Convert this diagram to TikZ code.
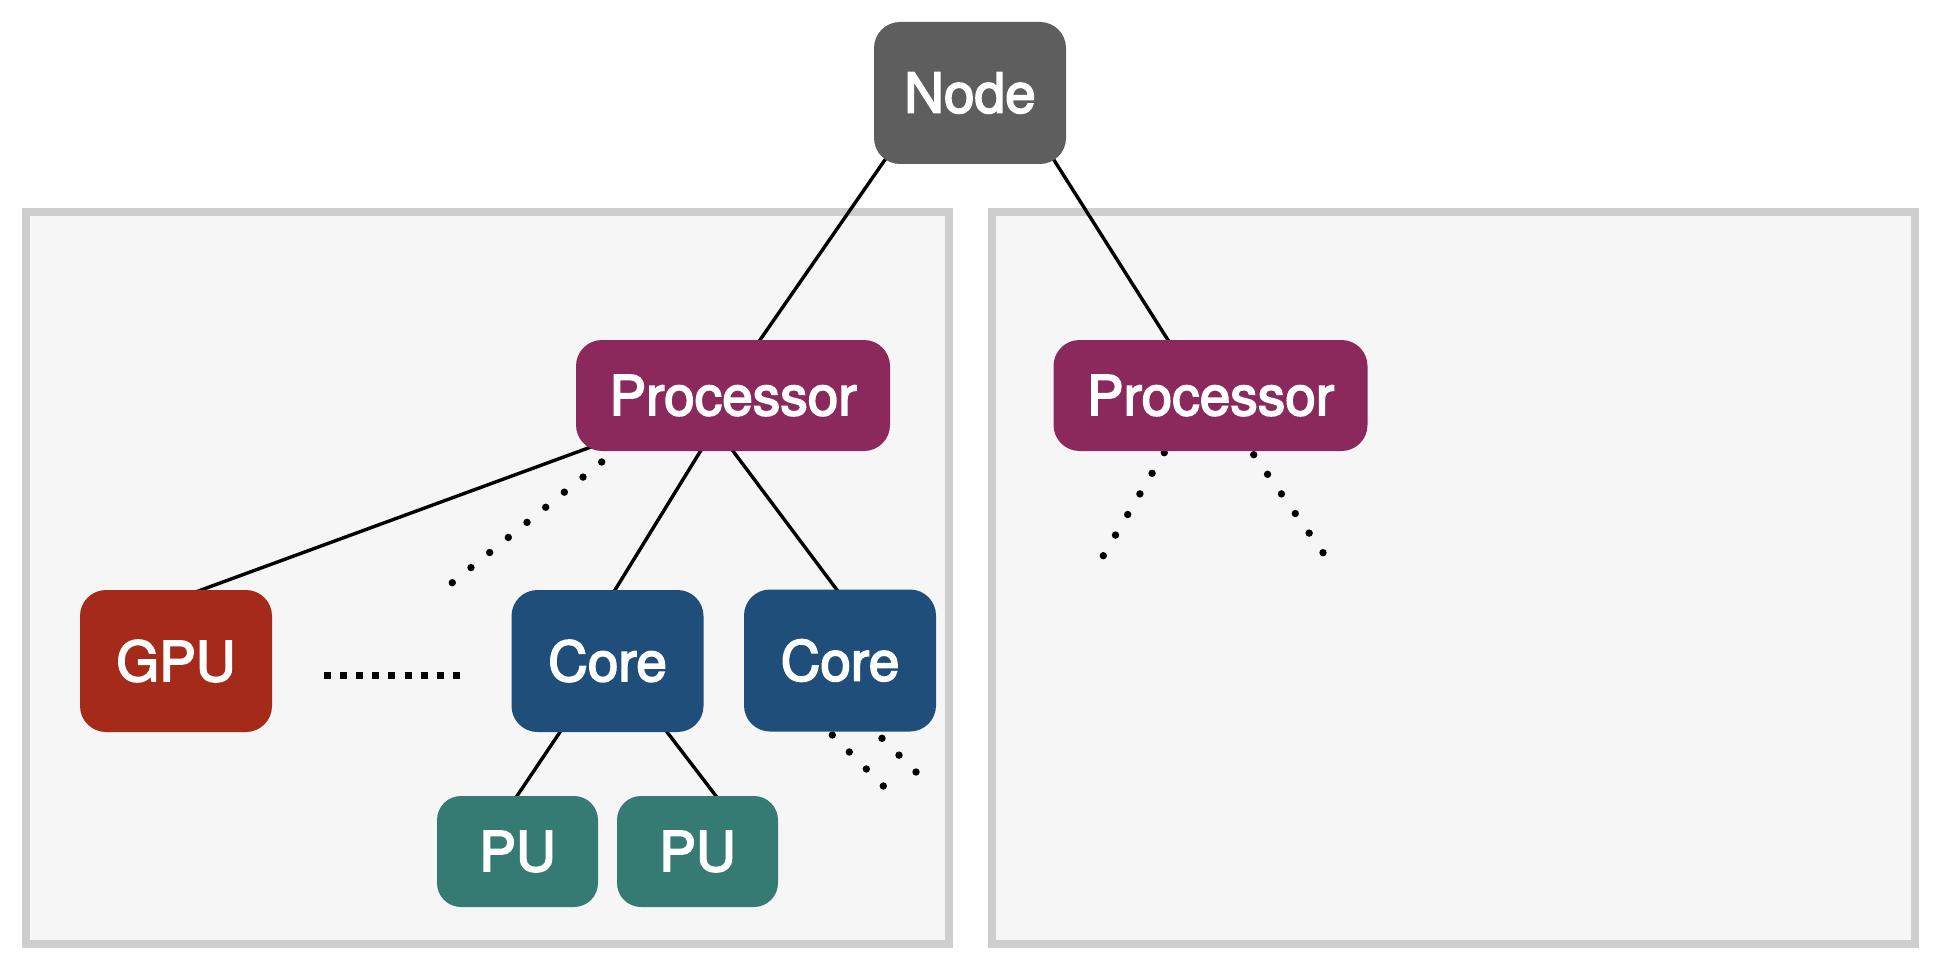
\documentclass[tikz,border=0pt]{standalone}
\usepackage{fontspec}
\setmainfont{TeX Gyre Heros}
\newfontfamily\labelfont[FakeBold=3]{TeX Gyre Heros}
\usetikzlibrary{calc}
\definecolor{panelfill}{HTML}{F6F6F6}
\definecolor{panelline}{HTML}{CECECE}
\definecolor{nodegray}{HTML}{5E5E5E}
\definecolor{procred}{HTML}{8B295C}
\definecolor{coreblue}{HTML}{1F4E7B}
\definecolor{gpured}{HTML}{A62A19}
\definecolor{puteal}{HTML}{367A74}
\pgfdeclarelayer{panel}
\pgfdeclarelayer{wires}
\pgfsetlayers{panel,wires,main}
\tikzset{
  box/.style={rectangle, rounded corners=13pt, inner sep=0pt, text=white,
    font=\labelfont\fontsize{27.5}{32}\selectfont},
  nodebox/.style={box, fill=nodegray, minimum width=96pt, minimum height=71pt},
  procbox/.style={box, fill=procred, minimum width=157pt, minimum height=55.5pt},
  corebox/.style={box, fill=coreblue, minimum width=96pt, minimum height=71pt},
  gpubox/.style={box, fill=gpured, minimum width=96pt, minimum height=71pt},
  pubox/.style={box, fill=puteal, minimum width=80.5pt, minimum height=55.5pt, rounded corners=12pt},
  panelbox/.style={draw=panelline, fill=panelfill, line width=4pt},
  wire/.style={draw=black, line width=1.7pt},
  dotrow/.style={fill=black},
  squaredots/.style={draw=black, line width=3.5pt, dash pattern=on 3.5pt off 4.55pt}
}
\newcommand{\dotline}[3]{%
  \foreach \k in {0,...,#3}{\fill[dotrow] ($(#1)!\k/#3!(#2)$) circle (1.85pt);}}
\begin{document}
\begin{tikzpicture}[x=0.5pt, y=-0.5pt]
\useasboundingbox (0,0) rectangle (1938,968);

% nodes of the hierarchy
\node[nodebox] (node) at (970,93) {Node};
\node[procbox] (procL) at (733,395.5) {Processor};
\node[procbox] (procR) at (1210.5,395.5) {Processor};
\node[gpubox] (gpu) at (176,661) {GPU};
\node[corebox] (coreA) at (607.5,661) {Core};
\node[corebox] (coreB) at (840,660.5) {Core};
\node[pubox] (puA) at (517.5,851.5) {PU};
\node[pubox] (puB) at (697.5,851.5) {PU};

% grey panels, one per processor
\begin{pgfonlayer}{panel}
  \node[panelbox, minimum width=461.5pt, minimum height=366pt, inner sep=0pt] (panelL) at (487.5,578) {};
  \node[panelbox, minimum width=461.5pt, minimum height=366pt, inner sep=0pt] (panelR) at (1453.5,578) {};
\end{pgfonlayer}

% free ends of the dotted continuations
\coordinate (a1) at ($(procL)+(-131.3,66.5)$);
\coordinate (a2) at (452.3,582.7);
\coordinate (b1) at ($(coreB)+(-7.7,74.5)$);
\coordinate (b2) at (883.3,786);
\coordinate (b3) at ($(coreB)+(42,77.8)$);
\coordinate (b4) at (916,772);
\coordinate (c1) at ($(procR)+(-46.2,57.2)$);
\coordinate (c2) at (1103.3,555.7);
\coordinate (c3) at ($(procR)+(43.2,59.2)$);
\coordinate (c4) at (1323,552.7);
\coordinate (s1) at (324,675);
\coordinate (s2) at (460,675);

\begin{pgfonlayer}{wires}
  \draw[wire] ($(node)+(-76.6,54.6)$) -- ($(procL)+(15.6,-39.1)$);
  \draw[wire] ($(node)+(74,51.3)$) -- ($(procR)+(-34.5,-42.8)$);
  \draw[wire] ($(procL)+(-123,44.5)$) -- ($(gpu)+(10.9,-65.8)$);
  \draw[wire] ($(procL)+(-24.6,42.7)$) -- ($(coreA)+(-0.4,-58.2)$);
  \draw[wire] ($(procL)+(-9,43.5)$) -- ($(coreB)+(6,-58.5)$);
  \draw[wire] ($(coreA)+(-39.1,58.5)$) -- ($(puA)+(-8.9,-43)$);
  \draw[wire] ($(coreA)+(50.4,59.1)$) -- ($(puB)+(27.6,-43.6)$);

  \dotline{a1}{a2}{8}
  \dotline{b1}{b2}{3}
  \dotline{b3}{b4}{2}
  \dotline{c1}{c2}{5}
  \dotline{c3}{c4}{5}
  \draw[squaredots] (s1) -- (s2);
\end{pgfonlayer}
\end{tikzpicture}
\end{document}
